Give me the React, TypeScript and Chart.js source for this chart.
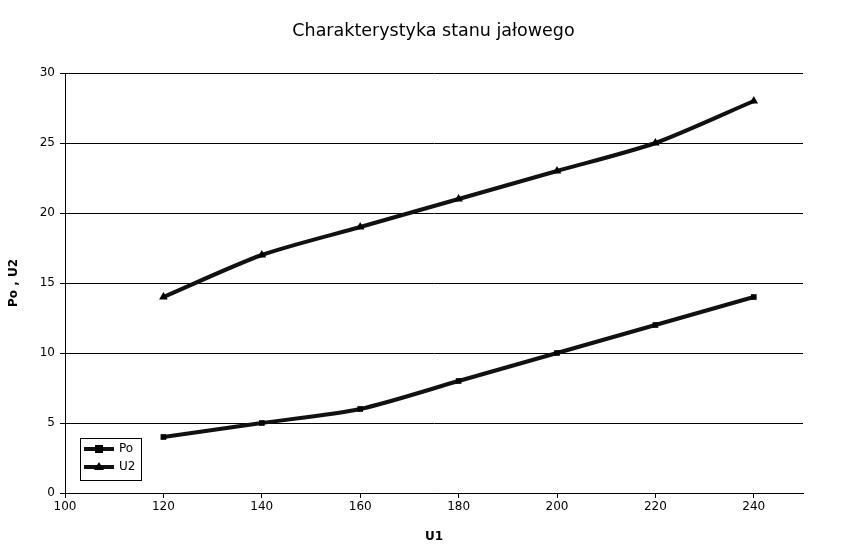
import React, { useEffect, useRef } from "react";
import { Chart, registerables } from "chart.js";

Chart.register(...registerables);

const U1 = [120, 140, 160, 180, 200, 220, 240];
const Po = [4, 5, 6, 8, 10, 12, 14];
const U2 = [14, 17, 19, 21, 23, 25, 28];
const seriesNames = ["Po", "U2"];
const chartTitle = "Charakterystyka stanu jałowego";
const xTitle = "U1";
const yTitle = "Po , U2";

const FONT = "'DejaVu Sans', sans-serif";

const legendPlugin = {
  id: "boxLegend",
  afterDraw(chart: any) {
    const ctx = chart.ctx;
    const left = 80, top = 438, w = 61, h = 42;
    ctx.save();
    ctx.fillStyle = "#fff";
    ctx.fillRect(left, top, w, h);
    ctx.strokeStyle = "#000";
    ctx.lineWidth = 1;
    ctx.strokeRect(left + 0.5, top + 0.5, w, h);
    chart.data.datasets.forEach((ds: any, i: number) => {
      const y = top + 11 + i * 18;
      ctx.strokeStyle = "#111";
      ctx.lineWidth = 4;
      ctx.beginPath();
      ctx.moveTo(left + 4, y);
      ctx.lineTo(left + 34, y);
      ctx.stroke();
      ctx.fillStyle = "#000";
      const cx = left + 19;
      if (ds.pointStyle === "rect") {
        ctx.fillRect(cx - 4, y - 4, 8, 8);
      } else {
        ctx.beginPath();
        ctx.moveTo(cx, y - 5);
        ctx.lineTo(cx + 5, y + 3);
        ctx.lineTo(cx - 5, y + 3);
        ctx.closePath();
        ctx.fill();
      }
      ctx.font = `12px ${FONT}`;
      ctx.textBaseline = "middle";
      ctx.textAlign = "left";
      ctx.fillText(ds.label, left + 39, y);
    });
    ctx.restore();
  },
};

export default function App() {
  const ref = useRef<HTMLCanvasElement>(null);
  useEffect(() => {
    const common = {
      borderColor: "#111",
      backgroundColor: "#000",
      borderWidth: 4,
      tension: 0.25,
      pointBorderWidth: 0,
    };
    const chart = new Chart(ref.current!, {
      type: "line",
      data: {
        datasets: [
          {
            ...common,
            label: seriesNames[0],
            data: U1.map((x, i) => ({ x, y: Po[i] })),
            pointStyle: "rect",
            pointRadius: 4,
          },
          {
            ...common,
            label: seriesNames[1],
            data: U1.map((x, i) => ({ x, y: U2[i] })),
            pointStyle: "triangle",
            pointRadius: 5,
          },
        ],
      },
      options: {
        animation: false,
        responsive: false,
        layout: { padding: 0 },
        plugins: {
          legend: { display: false },
          tooltip: { enabled: false },
          title: {
            display: true,
            text: chartTitle,
            color: "#000",
            font: { family: FONT, size: 17.5, weight: "normal" },
            padding: { top: 21, bottom: 31 },
          },
        },
        scales: {
          x: {
            type: "linear",
            min: 100,
            max: 250,
            afterFit(s: any) { s.height = 55; },
            afterBuildTicks(s: any) { s.ticks = s.ticks.filter((t: any) => t.value < 250); },
            ticks: {
              stepSize: 20,
              color: "#000",
              font: { family: FONT, size: 12 },
              padding: 2,
              maxRotation: 0,
            },
            grid: { drawOnChartArea: false, drawTicks: true, tickLength: 5, color: "#000" },
            border: { display: true, color: "#000", width: 1 },
            title: {
              display: true,
              text: xTitle,
              color: "#000",
              font: { family: FONT, size: 12, weight: "bold" },
              padding: { top: 4, bottom: 4 },
            },
          },
          y: {
            min: 0,
            max: 30,
            afterFit(s: any) { s.width = 65; },
            ticks: {
              stepSize: 5,
              color: "#000",
              font: { family: FONT, size: 12 },
              padding: 5,
            },
            grid: { drawOnChartArea: true, drawTicks: true, tickLength: 5, color: "#000" },
            border: { display: true, color: "#000", width: 1 },
            title: {
              display: true,
              text: yTitle,
              color: "#000",
              font: { family: FONT, size: 12, weight: "bold" },
              padding: { top: 7, bottom: 4 },
            },
          },
          yRight: {
            position: "right",
            min: 0,
            max: 30,
            afterFit(s: any) { s.width = 64; },
            ticks: { display: false },
            grid: { display: false },
            border: { display: false },
          },
        },
      },
      plugins: [legendPlugin],
    });
    return () => chart.destroy();
  }, []);
  return (
    <div style={{ position: "absolute", left: 0, top: 0, width: 867, height: 548, background: "#fff" }}>
      <canvas ref={ref} width={867} height={548} />
    </div>
  );
}
